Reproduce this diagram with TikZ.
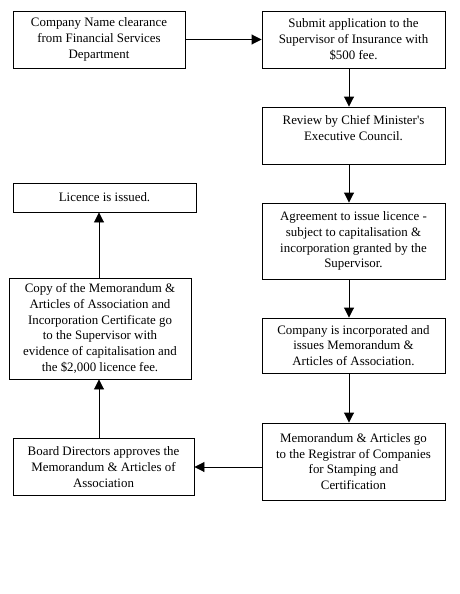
\documentclass[tikz,border=0pt]{standalone}
\usepackage{fontspec}
\setmainfont{Liberation Serif}
\usetikzlibrary{arrows.meta,calc}
\begin{document}
\begin{tikzpicture}[x=1pt,y=-1pt,
  box/.style={draw,line width=0.9pt,inner sep=0pt,align=center,
    font=\fontsize{12.9}{15.8}\selectfont},
  arr/.style={line width=0.9pt,-{Triangle[length=10pt,width=10pt]}}]
\useasboundingbox (0,0) rectangle (459,594);
\node[box,minimum width=172,minimum height=57] (A) at (99,39.5)
  {Company Name clearance\\from Financial Services\\Department};
\node[box,minimum width=183,minimum height=57] (B) at (353.5,39.5)
  {Submit application to the\\Supervisor of Insurance with\\\$500 fee.};
\node[box,minimum width=183,minimum height=57] (C) at (353.5,135.5)
  {Review by Chief Minister\textquotesingle s\\Executive Council.\\\mbox{}};
\node[box,minimum width=183,minimum height=76] (D) at (353.5,241)
  {Agreement to issue licence -\\subject to capitalisation \&\\incorporation granted by the\\Supervisor.};
\node[box,minimum width=183,minimum height=55] (E) at (353.5,345.5)
  {Company is incorporated and\\issues Memorandum \&\\Articles of Association.};
\node[box,minimum width=183,minimum height=77] (F) at (353.5,461.5)
  {Memorandum \& Articles go\\to the Registrar of Companies\\for Stamping and\\Certification};
\node[box,minimum width=181,minimum height=57] (G) at (103.5,467)
  {Board Directors approves the\\Memorandum \& Articles of\\Association};
\node[box,minimum width=182,minimum height=101] (H) at (100,328.5)
  {Copy of the Memorandum \&\\Articles of Association and\\Incorporation Certificate go\\to the Supervisor with\\evidence of capitalisation and\\the \$2,000 licence fee.};
\node[box,minimum width=183,minimum height=29] (I) at (104.5,197.5)
  {Licence is issued.};
\draw[arr] (A.east) -- (B.west);
\draw[arr] ([xshift=-4.5]B.south) -- ([xshift=-4.5]C.north);
\draw[arr] ([xshift=-4.5]C.south) -- ([xshift=-4.5]D.north);
\draw[arr] ([xshift=-4.5]D.south) -- ([xshift=-4.5]E.north);
\draw[arr] ([xshift=-4.5]E.south) -- ([xshift=-4.5]F.north);
\draw[arr] (F.west |- G.east) -- (G.east);
\draw[arr] (G.north -| 99,0) -- (H.south -| 99,0);
\draw[arr] (H.north -| 99,0) -- (I.south -| 99,0);
\end{tikzpicture}
\end{document}
